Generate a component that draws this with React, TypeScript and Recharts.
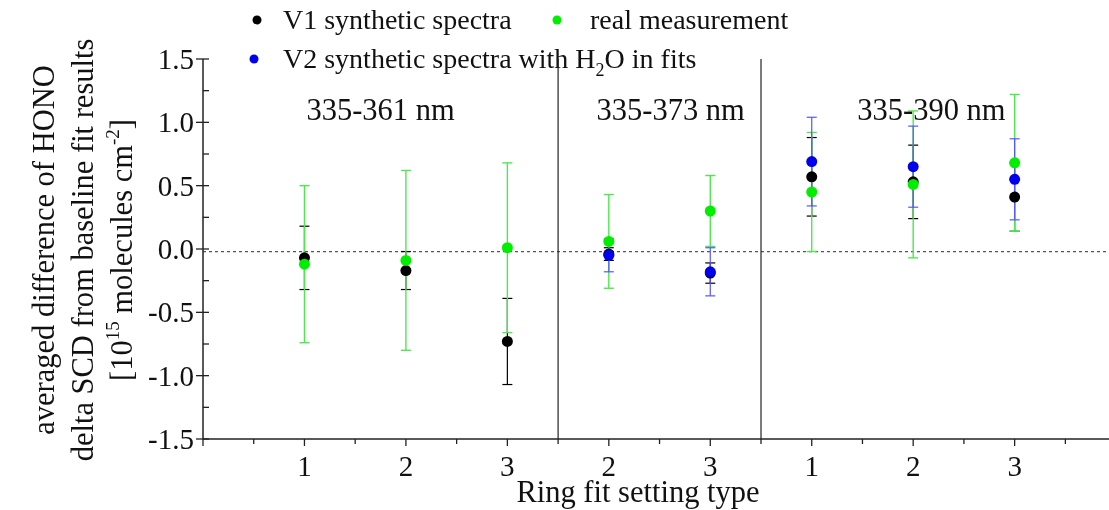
import React from "react";
import { ErrorBar, ReferenceDot, ReferenceLine, Scatter, ScatterChart, XAxis, YAxis } from "recharts";

// x slots: 1..3 = 335-361 nm, 4..5 = 335-373 nm, 6..8 = 335-390 nm
const positions = [1, 2, 3, 4, 5, 6, 7, 8];
const tickLabels = ["1", "2", "3", "2", "3", "1", "2", "3"];

const v1Values = [-0.07, -0.17, -0.73, -0.04, -0.19, 0.57, 0.53, 0.41];
const v1Errors = [0.25, 0.15, 0.34, 0.05, 0.08, 0.31, 0.29, 0.27];

const realValues = [-0.12, -0.09, 0.01, 0.06, 0.3, 0.45, 0.51, 0.68];
const realErrors = [0.62, 0.71, 0.67, 0.37, 0.28, 0.47, 0.58, 0.54];

const v2Positions = [4, 5, 6, 7, 8];
const v2Values = [-0.05, -0.18, 0.69, 0.65, 0.55];
const v2Errors = [0.13, 0.19, 0.35, 0.32, 0.32];

const regionLabels = ["335-361 nm", "335-373 nm", "335-390 nm"];
const regionLabelX = [1.75, 4.61, 7.18];
const regionDividers = [3.5, 5.5];

const xTicks = [0, 0.5, 1, 1.5, 2, 2.5, 3, 3.5, 4, 4.5, 5, 5.5, 6, 6.5, 7, 7.5, 8, 8.5];
const yTicks = [-1.5, -1.25, -1, -0.75, -0.5, -0.25, 0, 0.25, 0.5, 0.75, 1, 1.25, 1.5];

const FONT = "Liberation Serif, Tinos, DejaVu Serif, serif";
const TICK_FS = 29;
const TITLE_FS = 30.5;
const LEGEND_FS = 28;

const v1Data = positions.map((x, i) => ({ x, y: v1Values[i], err: v1Errors[i] }));
const realData = positions.map((x, i) => ({ x, y: realValues[i], err: realErrors[i] }));
const v2Data = v2Positions.map((x, i) => ({ x, y: v2Values[i], err: v2Errors[i] }));

const dot = (fill: string) => (p: any) => <circle cx={p.cx} cy={p.cy} r={5.5} fill={fill} />;

function XTick(props: any) {
  const { x, y, payload } = props;
  const v = payload.value;
  const major = Number.isInteger(v) && v > 0;
  const idx = positions.indexOf(v);
  return (
    <g>
      <line x1={x} x2={x} y1={y} y2={y + (major || v === 0 ? 7 : 5)} stroke="#222" strokeWidth={1.3} />
      {major && idx >= 0 && (
        <text x={x} y={y + 37} textAnchor="middle" fontFamily={FONT} fontSize={TICK_FS} fill="#111">
          {tickLabels[idx]}
        </text>
      )}
    </g>
  );
}

function YTick(props: any) {
  const { x, y, payload } = props;
  const v = payload.value;
  const major = Math.abs(v * 2 - Math.round(v * 2)) < 1e-6;
  return (
    <g>
      <line x1={major ? x - 7 : x} x2={x + 6} y1={y} y2={y} stroke="#222" strokeWidth={1.3} />
      {major && (
        <text x={x - 9} y={y + 10} textAnchor="end" fontFamily={FONT} fontSize={TICK_FS} fill="#111">
          {v.toFixed(1)}
        </text>
      )}
    </g>
  );
}

function YTitle() {
  const cy = 250;
  const line = (x: number, children: React.ReactNode) => (
    <text x={x} y={cy} transform={`rotate(-90 ${x} ${cy})`} textAnchor="middle" fontFamily={FONT} fontSize={TITLE_FS} fill="#111">
      {children}
    </text>
  );
  return (
    <g>
      {line(54, "averaged difference of HONO")}
      {line(93, "delta SCD from baseline fit results")}
      {line(
        132,
        <>
          [10
          <tspan dy={-13} fontSize={19}>15</tspan>
          <tspan dy={13}> molecules cm</tspan>
          <tspan dy={-13} fontSize={19}>-2</tspan>
          <tspan dy={13}>]</tspan>
        </>
      )}
    </g>
  );
}

function LegendBlock() {
  return (
    <g fontFamily={FONT} fontSize={LEGEND_FS} fill="#111">
      <circle cx={257} cy={20} r={4.5} fill="#000" />
      <text x={283} y={29}>V1 synthetic spectra</text>
      <circle cx={557} cy={20} r={4.5} fill="#00ee00" />
      <text x={590} y={29}>real measurement</text>
      <circle cx={254} cy={59} r={4.5} fill="#0000ee" />
      <text x={283} y={68}>
        V2 synthetic spectra with H<tspan dy={8} fontSize={18}>2</tspan>
        <tspan dy={-8}>O in fits</tspan>
      </text>
    </g>
  );
}

export default function App() {
  return (
    <div style={{ position: "fixed", left: 0, top: 0, width: 1109, height: 510 }}>
      <ScatterChart width={1109} height={510} margin={{ top: 59, right: 0, bottom: 0, left: 143 }}>
        <XAxis
          type="number"
          dataKey="x"
          domain={[0, 8.93]}
          ticks={xTicks}
          interval={0}
          tick={<XTick />}
          tickLine={false}
          tickSize={0}
          tickMargin={0}
          height={71}
          axisLine={{ stroke: "#222", strokeWidth: 1.5 }}
          label={{
            content: () => (
              <text x={638} y={502} textAnchor="middle" fontFamily={FONT} fontSize={TITLE_FS} fill="#111">
                Ring fit setting type
              </text>
            ),
          }}
        />
        <YAxis
          type="number"
          dataKey="y"
          domain={[-1.5, 1.5]}
          ticks={yTicks}
          interval={0}
          tick={<YTick />}
          tickLine={false}
          tickSize={0}
          tickMargin={0}
          width={60}
          axisLine={{ stroke: "#222", strokeWidth: 1.5 }}
          label={{ content: () => <YTitle /> }}
        />
        <ReferenceLine y={-0.02} stroke="#555" strokeDasharray="3 3" strokeWidth={1.2} />
        {regionDividers.map((x) => (
          <ReferenceLine key={x} x={x} stroke="#222" strokeWidth={1.2} />
        ))}
        {regionLabels.map((t, i) => (
          <ReferenceDot
            key={t}
            x={regionLabelX[i]}
            y={1.1}
            r={0}
            stroke="none"
            label={{ value: t, position: "center", fontFamily: FONT, fontSize: TITLE_FS, fill: "#111" }}
          />
        ))}
        <Scatter data={v1Data} shape={dot("#000")} isAnimationActive={false}>
          <ErrorBar dataKey="err" direction="y" width={5} stroke="#000" strokeWidth={1.2} />
        </Scatter>
        <Scatter data={realData} shape={dot("#00ee00")} isAnimationActive={false}>
          <ErrorBar dataKey="err" direction="y" width={5} stroke="#4ee84e" strokeWidth={1.4} />
        </Scatter>
        <Scatter data={v2Data} shape={dot("#0000ee")} isAnimationActive={false}>
          <ErrorBar dataKey="err" direction="y" width={5} stroke="#5555ff" strokeWidth={1.2} />
        </Scatter>
        <LegendBlock />
      </ScatterChart>
    </div>
  );
}
